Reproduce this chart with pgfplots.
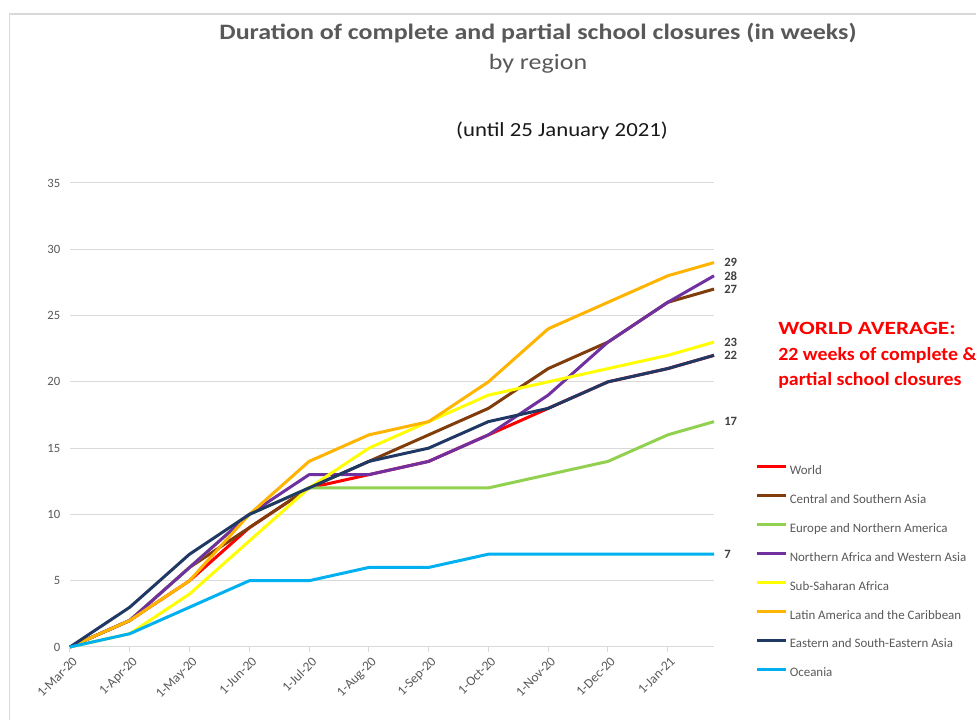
\documentclass[border=0pt]{standalone}
\usepackage{pgfplots}
\usepackage{pgfplotstable}
\pgfplotsset{compat=1.18}
\usepackage{fontspec}
\setmainfont{Carlito}
\definecolor{txtgray}{RGB}{89,89,89}
\definecolor{lblgray}{RGB}{64,64,64}
\definecolor{gridgray}{RGB}{217,217,217}
\definecolor{cworld}{RGB}{255,0,0}
\definecolor{ccsa}{RGB}{128,60,10}
\definecolor{cena}{RGB}{146,208,80}
\definecolor{cnawa}{RGB}{112,48,160}
\definecolor{cssa}{RGB}{255,255,0}
\definecolor{clac}{RGB}{255,180,0}
\definecolor{cesea}{RGB}{31,56,100}
\definecolor{coce}{RGB}{0,176,240}

\pgfplotstableread{
x      world csa ena nawa ssa lac esea oce
0      0     0   0   0    0   0   0    0
1      2     2   2   2    1   2   3    1
2      5     6   6   6    4   5   7    3
3      9     9   10  10   8   10  10   5
4      12    12  12  13   12  14  12   5
5      13    14  12  13   15  16  14   6
6      14    16  12  14   17  17  15   6
7      16    18  12  16   19  20  17   7
8      18    21  13  19   20  24  18   7
9      20    23  14  23   21  26  20   7
10     21    26  16  26   22  28  21   7
10.774 22    27  17  28   23  29  22   7
}\data

\begin{document}
\begin{tikzpicture}[x=1pt,y=1pt]
\useasboundingbox (0,0) rectangle (732,540);
\fill[white] (0,0) rectangle (732,540);
\draw[gridgray, line width=0.9pt] (7.1,0) -- (7.1,529.5) -- (732,529.5);
\node[font=\fontsize{16.5}{19}\selectfont\bfseries, text=txtgray, xscale=1.18] at (403.5,515.25) {Duration of complete and partial school closures (in weeks)};
\node[font=\fontsize{16.5}{19}\selectfont, text=txtgray, xscale=1.18] at (403.5,492) {by region};
\node[font=\fontsize{15}{18}\selectfont, text=black!90, xscale=1.14] at (421.5,441.75) {(until 25 January 2021)};
\node[font=\fontsize{14}{16}\selectfont\bfseries, text=cworld, anchor=west, inner sep=0pt, xscale=1.25] at (583.5,294) {WORLD AVERAGE:};
\node[font=\fontsize{14}{16}\selectfont\bfseries, text=cworld, anchor=west, inner sep=0pt, xscale=1.065] at (583.5,273.75) {22 weeks of complete \&};
\node[font=\fontsize{14}{16}\selectfont\bfseries, text=cworld, anchor=west, inner sep=0pt, xscale=1.065] at (583.5,255) {partial school closures};
\begin{axis}[
  at={(52.5pt,54.75pt)}, anchor=south west,
  scale only axis, width=483pt, height=348pt,
  xmin=0, xmax=10.774, ymin=0, ymax=35,
  clip=false,
  axis line style={draw=none},
  ytick={0,5,...,35},
  ymajorgrids, grid style={gridgray, line width=0.75pt},
  ytick style={draw=none},
  xtick={0,...,10},
  xticklabels={1-Mar-20,1-Apr-20,1-May-20,1-Jun-20,1-Jul-20,1-Aug-20,1-Sep-20,1-Oct-20,1-Nov-20,1-Dec-20,1-Jan-21},
  xtick pos=bottom, tick align=outside,
  major tick length=3.75pt,
  xtick style={gridgray, line width=0.75pt},
  xticklabel style={rotate=45, anchor=north east, font=\fontsize{10}{12}\selectfont, text=txtgray, inner sep=1pt, yshift=-2pt},
  yticklabel style={font=\fontsize{9.5}{11}\selectfont, text=txtgray},
  /pgf/number format/assume math mode=true,
  every axis plot/.append style={line width=2.25pt, line join=round},
  legend cell align=left,
  legend image code/.code={\draw[#1] (0pt,3.1pt) -- (21.75pt,3.1pt);},
  legend style={at={(rel axis cs:1.0645,0.3927)}, anchor=north west, draw=none, fill=none,
    inner sep=0pt, row sep=12.7pt, column sep=1.5pt,
    font=\fontsize{9.7}{11}\selectfont, text=txtgray,
    nodes={inner sep=0pt, text height=7pt, text depth=2pt}},
]
\addplot[cworld] table[x=x,y=world] {\data};
\addlegendentry{World}
\addplot[ccsa] table[x=x,y=csa] {\data};
\addlegendentry{Central and Southern Asia}
\addplot[cena] table[x=x,y=ena] {\data};
\addlegendentry{Europe and Northern America}
\addplot[cnawa] table[x=x,y=nawa] {\data};
\addlegendentry{Northern Africa and Western Asia}
\addplot[cssa] table[x=x,y=ssa] {\data};
\addlegendentry{Sub-Saharan Africa}
\addplot[clac] table[x=x,y=lac] {\data};
\addlegendentry{Latin America and the Caribbean}
\addplot[cesea] table[x=x,y=esea] {\data};
\addlegendentry{Eastern and South-Eastern Asia}
\addplot[coce] table[x=x,y=oce] {\data};
\addlegendentry{Oceania}
\node[anchor=west, font=\fontsize{9.5}{11}\selectfont\bfseries, text=lblgray, inner sep=0pt, xshift=7.5pt] at (axis cs:10.774,29) {29};
\node[anchor=west, font=\fontsize{9.5}{11}\selectfont\bfseries, text=lblgray, inner sep=0pt, xshift=7.5pt] at (axis cs:10.774,28) {28};
\node[anchor=west, font=\fontsize{9.5}{11}\selectfont\bfseries, text=lblgray, inner sep=0pt, xshift=7.5pt] at (axis cs:10.774,27) {27};
\node[anchor=west, font=\fontsize{9.5}{11}\selectfont\bfseries, text=lblgray, inner sep=0pt, xshift=7.5pt] at (axis cs:10.774,23) {23};
\node[anchor=west, font=\fontsize{9.5}{11}\selectfont\bfseries, text=lblgray, inner sep=0pt, xshift=7.5pt] at (axis cs:10.774,22) {22};
\node[anchor=west, font=\fontsize{9.5}{11}\selectfont\bfseries, text=lblgray, inner sep=0pt, xshift=7.5pt] at (axis cs:10.774,17) {17};
\node[anchor=west, font=\fontsize{9.5}{11}\selectfont\bfseries, text=lblgray, inner sep=0pt, xshift=7.5pt] at (axis cs:10.774,7) {7};
\end{axis}
\end{tikzpicture}
\end{document}
